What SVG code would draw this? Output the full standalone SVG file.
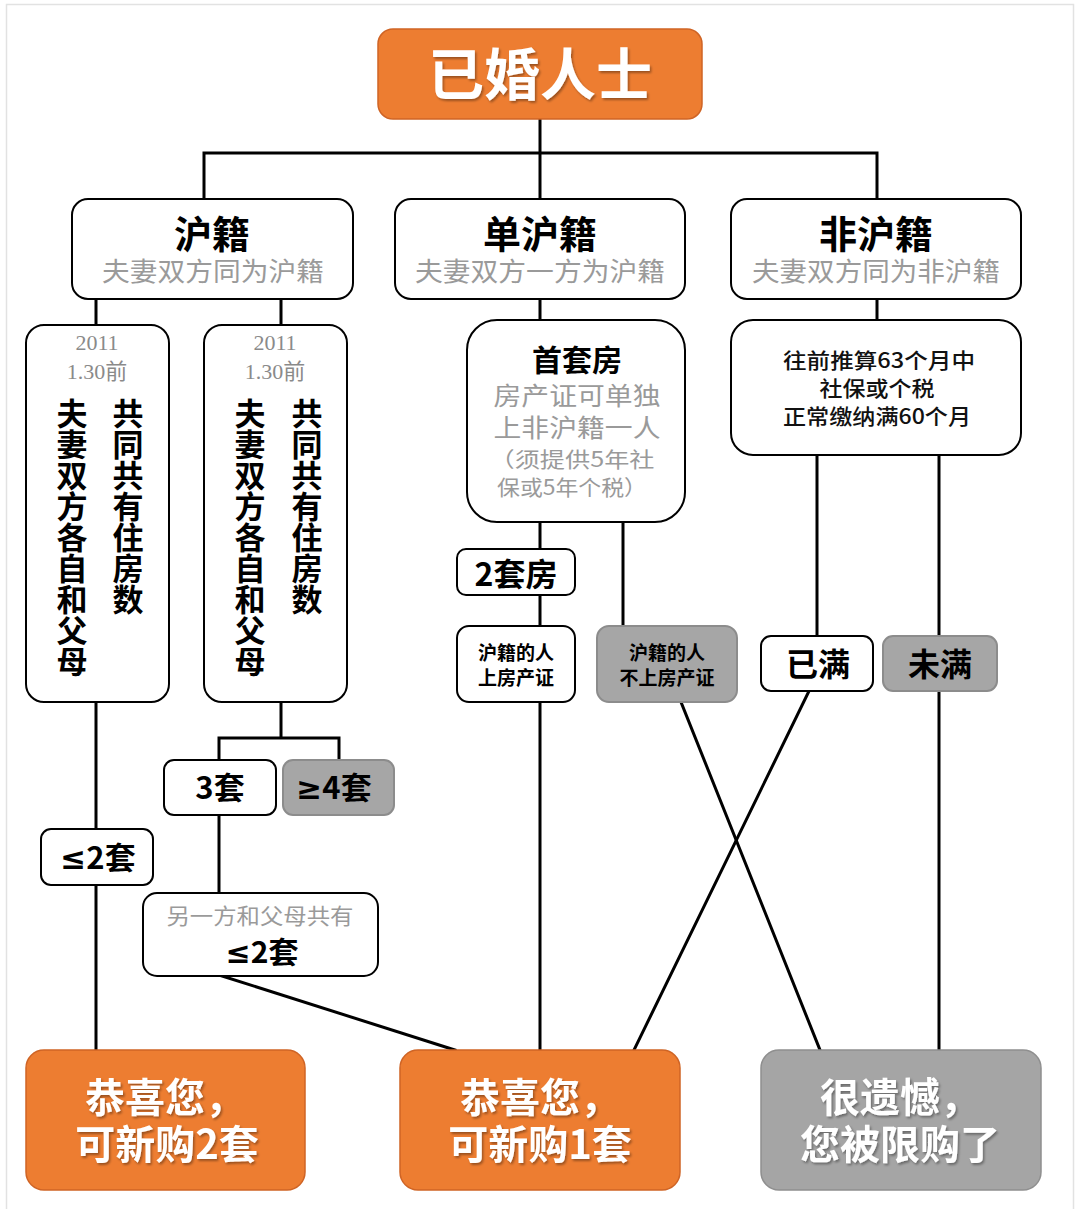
<svg xmlns="http://www.w3.org/2000/svg" width="1080" height="1209" viewBox="0 0 1080 1209">
<defs>
<filter id="sh" x="-10%" y="-10%" width="120%" height="130%">
<feDropShadow dx="1.5" dy="2" stdDeviation="1" flood-color="#000" flood-opacity="0.35"/>
</filter>
<style>
.cn{fill:none;stroke:#000;stroke-width:3;stroke-linecap:square}
.wb{fill:#fff;stroke:#000;stroke-width:2}
.gb{fill:#a6a6a6;stroke:#8c8c8c;stroke-width:2}
.ob{fill:#ed7d31;stroke:#cf6425;stroke-width:1.5}
.rg{fill:#a5a5a5;stroke:#8f8f8f;stroke-width:1.5}
.b{font-family:"Noto Sans CJK SC","Noto Sans",sans-serif;font-weight:700;fill:#000;text-anchor:middle}
.g{font-family:"Noto Sans CJK SC","Noto Sans",sans-serif;font-weight:400;fill:#9a9a9a;text-anchor:middle}
.s{font-family:"Liberation Serif","Noto Sans CJK SC",serif;fill:#8a8a8a;text-anchor:middle}
.k{font-family:"Noto Sans CJK SC","Noto Sans",sans-serif;font-weight:500;fill:#111;text-anchor:middle}
.w{font-family:"Noto Sans CJK SC","Noto Sans",sans-serif;font-weight:700;fill:#fff;text-anchor:middle;filter:url(#sh)}
.vt{font-family:"Noto Sans CJK SC",sans-serif;font-weight:700;fill:#000;writing-mode:vertical-rl;font-size:31px}
.sym{font-family:"DejaVu Sans",sans-serif;font-weight:700}
</style>
</defs>
<rect x="0" y="0" width="1080" height="1209" fill="#fff"/>
<rect x="6.5" y="4.5" width="1067" height="1210" fill="none" stroke="#e2e2e2" stroke-width="1.5"/>

<g id="connectors">
<path class="cn" d="M540 119 V199"/>
<path class="cn" d="M204 199 V153 H877 V199"/>
<path class="cn" d="M96 299 V325 M281 299 V325"/>
<path class="cn" d="M540 299 V320 M877 299 V320"/>
<path class="cn" d="M96 702 V1050"/>
<path class="cn" d="M281 702 V738 M219 760 V738 H339 V760"/>
<path class="cn" d="M219 815 V893"/>
<path class="cn" d="M222 976 L455 1050"/>
<path class="cn" d="M540 522 V1050"/>
<path class="cn" d="M623 522 V626"/>
<path class="cn" d="M681 702 L820 1050"/>
<path class="cn" d="M817 455 V636 M939 455 V1050"/>
<path class="cn" d="M809 691 L634 1050"/>
</g>

<g id="n-married">
<rect class="ob" x="378" y="29" width="324" height="90" rx="15"/>
<text class="w" x="540" y="95" font-size="56">已婚人士</text>
</g>

<g id="n-hu">
<rect class="wb" x="72" y="199" width="281" height="100" rx="16"/>
<text class="b" x="212" y="248" font-size="38">沪籍</text>
<text class="g" x="213" y="281" font-size="26" textLength="222" lengthAdjust="spacingAndGlyphs">夫妻双方同为沪籍</text>
</g>
<g id="n-danhu">
<rect class="wb" x="395" y="199" width="290" height="100" rx="16"/>
<text class="b" x="540" y="248" font-size="38">单沪籍</text>
<text class="g" x="540" y="281" font-size="26" textLength="250" lengthAdjust="spacingAndGlyphs">夫妻双方一方为沪籍</text>
</g>
<g id="n-feihu">
<rect class="wb" x="731" y="199" width="290" height="100" rx="16"/>
<text class="b" x="876" y="248" font-size="38">非沪籍</text>
<text class="g" x="876" y="281" font-size="26" textLength="248" lengthAdjust="spacingAndGlyphs">夫妻双方同为非沪籍</text>
</g>

<g id="n-left1">
<rect class="wb" x="26" y="325" width="143" height="377" rx="18"/>
<text class="s" x="97" y="350" font-size="22">2011</text>
<text class="s" x="97" y="379" font-size="22">1.30前</text>
<text class="vt" x="72" y="398">夫妻双方各自和父母</text>
<text class="vt" x="128" y="398">共同共有住房数</text>
</g>
<g id="n-left2">
<rect class="wb" x="204" y="325" width="143" height="377" rx="18"/>
<text class="s" x="275" y="350" font-size="22">2011</text>
<text class="s" x="275" y="379" font-size="22">1.30前</text>
<text class="vt" x="250" y="398">夫妻双方各自和父母</text>
<text class="vt" x="307" y="398">共同共有住房数</text>
</g>

<g id="n-first">
<rect class="wb" x="467" y="320" width="218" height="202" rx="30"/>
<text class="b" x="577" y="371" font-size="30">首套房</text>
<text class="g" x="577" y="405" font-size="25" textLength="167" lengthAdjust="spacingAndGlyphs">房产证可单独</text>
<text class="g" x="577" y="437" font-size="25" textLength="167" lengthAdjust="spacingAndGlyphs">上非沪籍一人</text>
<text class="g" x="572" y="467" font-size="21" textLength="165" lengthAdjust="spacingAndGlyphs">（须提供5年社</text>
<text class="g" x="572" y="495" font-size="21" textLength="150" lengthAdjust="spacingAndGlyphs">保或5年个税）</text>
</g>

<g id="n-63">
<rect class="wb" x="731" y="320" width="290" height="135" rx="22"/>
<text class="k" x="879" y="368" font-size="21" textLength="192" lengthAdjust="spacingAndGlyphs">往前推算63个月中</text>
<text class="k" x="877" y="396" font-size="21" textLength="115" lengthAdjust="spacingAndGlyphs">社保或个税</text>
<text class="k" x="877" y="424" font-size="21" textLength="188" lengthAdjust="spacingAndGlyphs">正常缴纳满60个月</text>
</g>

<g id="n-2tao">
<rect class="wb" x="457" y="549" width="118" height="46" rx="9"/>
<text class="b" x="516" y="586" font-size="32">2套房</text>
</g>
<g id="n-hushang">
<rect class="wb" x="457" y="626" width="118" height="76" rx="12"/>
<text class="b" x="516" y="660" font-size="19">沪籍的人</text>
<text class="b" x="516" y="685" font-size="19">上房产证</text>
</g>
<g id="n-hubushang">
<rect class="gb" x="597" y="626" width="140" height="76" rx="12"/>
<text class="b" x="667" y="660" font-size="19">沪籍的人</text>
<text class="b" x="667" y="685" font-size="19">不上房产证</text>
</g>

<g id="n-yiman">
<rect class="wb" x="761" y="636" width="112" height="55" rx="10"/>
<text class="b" x="818" y="676" font-size="32">已满</text>
</g>
<g id="n-weiman">
<rect class="gb" x="883" y="636" width="114" height="55" rx="10"/>
<text class="b" x="940" y="676" font-size="32">未满</text>
</g>

<g id="n-3tao">
<rect class="wb" x="164" y="760" width="112" height="55" rx="10"/>
<text class="b" x="220" y="799" font-size="31">3套</text>
</g>
<g id="n-4tao">
<rect class="gb" x="283" y="760" width="111" height="55" rx="10"/>
<text class="b" x="334" y="799" font-size="31"><tspan class="sym">≥</tspan>4套</text>
</g>
<g id="n-le2tao">
<rect class="wb" x="41" y="829" width="112" height="56" rx="10"/>
<text class="b" x="98" y="869" font-size="31"><tspan class="sym">≤</tspan>2套</text>
</g>
<g id="n-other">
<rect class="wb" x="143" y="893" width="235" height="83" rx="14"/>
<text class="g" x="260" y="924" font-size="22" textLength="187" lengthAdjust="spacingAndGlyphs">另一方和父母共有</text>
<text class="b" x="262" y="963" font-size="30"><tspan class="sym">≤</tspan>2套</text>
</g>

<g id="n-buy2">
<rect class="ob" x="26" y="1050" width="279" height="140" rx="18"/>
<text class="w" x="165" y="1112" font-size="40">恭喜您，</text>
<text class="w" x="167" y="1159" font-size="40">可新购2套</text>
</g>
<g id="n-buy1">
<rect class="ob" x="400" y="1050" width="280" height="140" rx="18"/>
<text class="w" x="540" y="1112" font-size="40">恭喜您，</text>
<text class="w" x="540" y="1159" font-size="40">可新购1套</text>
</g>
<g id="n-limit">
<rect class="rg" x="761" y="1050" width="280" height="140" rx="18"/>
<text class="w" x="900" y="1112" font-size="40">很遗憾，</text>
<text class="w" x="900" y="1159" font-size="40">您被限购了</text>
</g>
</svg>
